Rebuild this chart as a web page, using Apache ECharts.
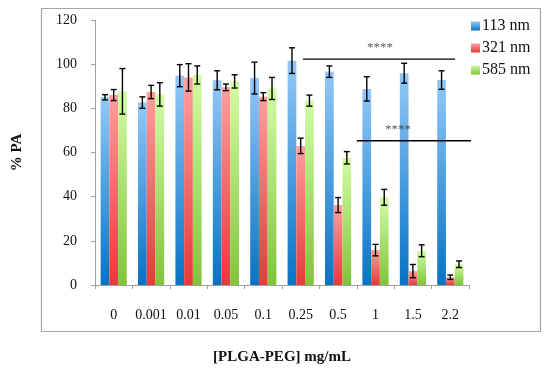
<!DOCTYPE html>
<html><head><meta charset="utf-8">
<script src="https://cdn.jsdelivr.net/npm/echarts@6/dist/echarts.min.js"></script>
<style>html,body{margin:0;padding:0;background:#fff}#c{width:550px;height:377px}</style>
</head><body><div id="c"></div>
<script>
var categories = ['0','0.001','0.01','0.05','0.1','0.25','0.5','1','1.5','2.2'];
var seriesNames = ['113 nm','321 nm','585 nm'];
var v113 = [85.0, 82.6, 94.8, 92.7, 93.7, 101.6, 96.6, 88.8, 95.9, 92.8];
var e113 = [1.2, 2.6, 5.0, 4.3, 7.2, 5.8, 2.6, 5.5, 4.5, 4.2];
var v321 = [86.0, 87.4, 94.0, 89.5, 85.3, 63.0, 36.2, 15.8, 6.3, 3.5];
var e321 = [2.5, 3.0, 6.2, 1.5, 1.8, 3.5, 3.4, 2.6, 3.0, 1.0];
var v585 = [87.7, 86.3, 95.1, 92.2, 89.0, 83.5, 57.6, 39.7, 15.5, 9.4];
var e585 = [10.3, 5.3, 4.1, 3.0, 5.0, 2.5, 2.8, 3.6, 2.7, 1.5];
var yTicks = {min: 0, max: 120, interval: 20};
var sigLines = [ {x0: 5.06, x1: 9.13, y: 102.3, tx: 7.12, ty: 107.3},
                 {x0: 6.5,  x1: 9.6,  y: 65.3,  tx: 7.6,  ty: 70.2} ];

var font = 'Liberation Serif';
var colorStops = [
  ['#92c8f8', '#0672c4'],
  ['#ff9e9e', '#e63a3a'],
  ['#d2fca4', '#80c43a']
];
var values = [v113, v321, v585];
var errors = [e113, e321, e585];
var catGapPct = 30;

var chart = echarts.init(document.getElementById('c'));
var series = [];
for (var s = 0; s < 3; s++) {
  series.push({
    name: seriesNames[s], type: 'bar', xAxisIndex: 0, yAxisIndex: 0,
    barGap: '0%', barCategoryGap: catGapPct + '%',
    itemStyle: {color: new echarts.graphic.LinearGradient(0, 0, 0, 1, [
      {offset: 0, color: colorStops[s][0]}, {offset: 1, color: colorStops[s][1]}])},
    data: values[s]
  });
}
for (var s2 = 0; s2 < 3; s2++) {
  (function (si) {
    var d = values[si].map(function (v, i) { return [i, v - errors[si][i], v + errors[si][i]]; });
    series.push({
      type: 'custom', xAxisIndex: 0, yAxisIndex: 0, z: 10,
      renderItem: function (params, api) {
        var band = api.size([1, 0])[0];
        var bw = band * (1 - catGapPct / 100) / 3;
        var off = (si - 1) * bw;
        var lo = api.coord([api.value(0), api.value(1)]);
        var hi = api.coord([api.value(0), api.value(2)]);
        var x = lo[0] + off, cap = 3;
        var st = {stroke: '#000', lineWidth: 1.4};
        return {type: 'group', children: [
          {type: 'line', shape: {x1: x, y1: lo[1], x2: x, y2: hi[1]}, style: st},
          {type: 'line', shape: {x1: x - cap, y1: lo[1], x2: x + cap, y2: lo[1]}, style: st},
          {type: 'line', shape: {x1: x - cap, y1: hi[1], x2: x + cap, y2: hi[1]}, style: st}
        ]};
      },
      encode: {x: 0, y: [1, 2]},
      data: d
    });
  })(s2);
}
sigLines.forEach(function (L) {
  series.push({
    type: 'line', xAxisIndex: 1, yAxisIndex: 0, symbol: 'none', clip: false, silent: true,
    lineStyle: {color: '#000', width: 1.4}, z: 11,
    data: [[L.x0, L.y], [L.x1, L.y]]
  });
  series.push({
    type: 'scatter', xAxisIndex: 1, yAxisIndex: 0, symbolSize: 0, clip: false, silent: true,
    label: {show: true, position: 'inside', formatter: '****', fontFamily: font, fontSize: 13, color: '#333'},
    data: [[L.tx, L.ty]]
  });
});

chart.setOption({
  animation: false,
  backgroundColor: '#fff',
  graphic: [{type: 'rect', shape: {x: 41.5, y: 8.5, width: 499, height: 323},
    style: {fill: 'none', stroke: '#a6a6a6', lineWidth: 1.2}, z: -1}],
  legend: {
    data: seriesNames, orient: 'vertical', left: 466, top: 13,
    icon: 'rect', itemWidth: 9, itemHeight: 9, itemGap: 6,
    textStyle: {fontFamily: font, fontSize: 16, color: '#111', padding: [0, 0, 0, -3]}
  },
  grid: {left: 95, right: 81, top: 20, bottom: 92},
  xAxis: [{
    type: 'category', data: categories,
    axisLine: {lineStyle: {color: '#a0a0a0'}},
    axisTick: {show: true, length: 4, lineStyle: {color: '#a0a0a0'}},
    axisLabel: {fontFamily: font, fontSize: 14, color: '#111', margin: 23, interval: 0},
    name: '[PLGA-PEG] mg/mL', nameLocation: 'middle', nameGap: 65,
    nameTextStyle: {fontFamily: font, fontSize: 15, fontWeight: 'bold', color: '#111'}
  }, {
    type: 'value', min: -0.5, max: 9.5, show: false
  }],
  yAxis: {
    type: 'value', min: yTicks.min, max: yTicks.max, interval: yTicks.interval,
    axisLine: {show: true, onZero: false, lineStyle: {color: '#a0a0a0'}},
    axisTick: {show: true, length: 4, lineStyle: {color: '#a0a0a0'}},
    splitLine: {show: false},
    axisLabel: {fontFamily: font, fontSize: 14, color: '#111', margin: 18},
    name: '% PA', nameLocation: 'middle', nameGap: 70, nameRotate: 90,
    nameTextStyle: {fontFamily: font, fontSize: 15, fontWeight: 'bold', color: '#111'}
  },
  series: series
});
</script></body></html>
